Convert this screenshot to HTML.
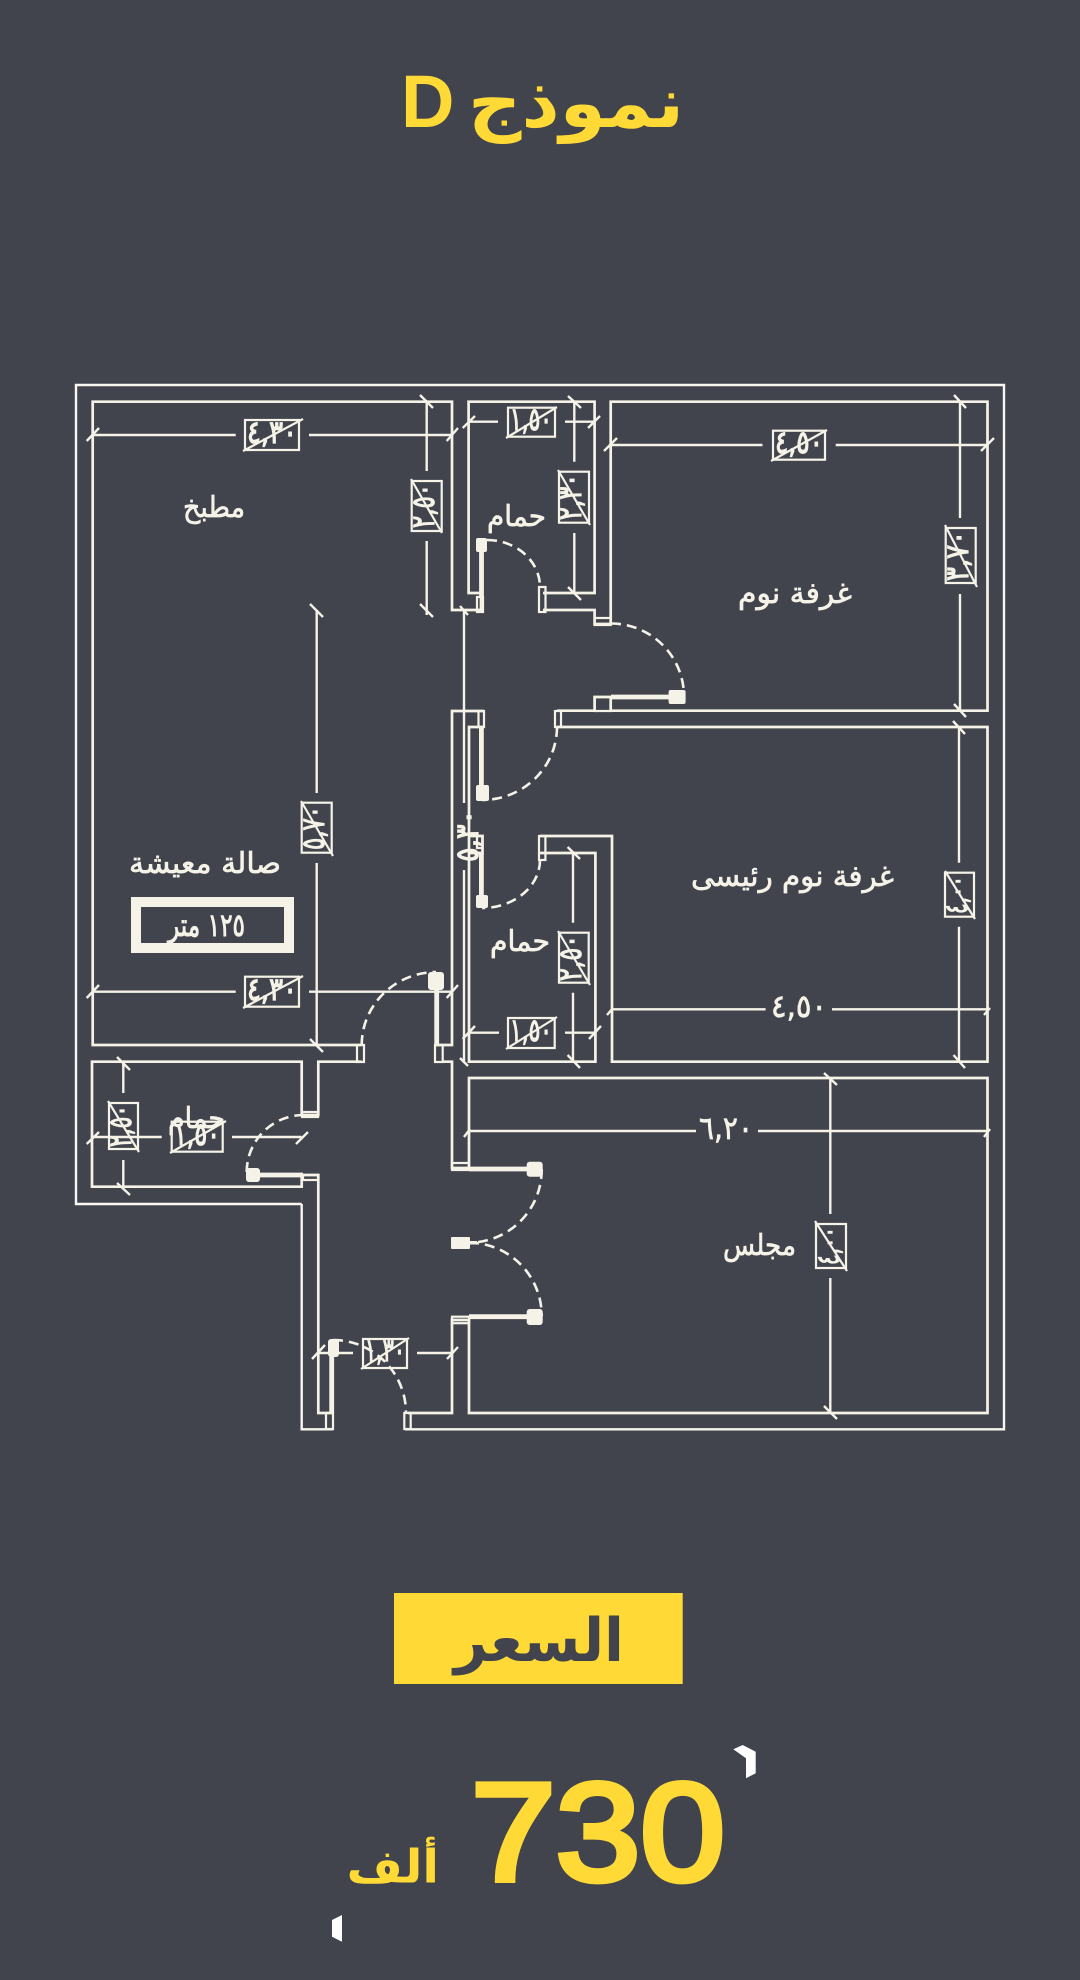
<!DOCTYPE html>
<html lang="ar">
<head>
<meta charset="utf-8">
<title>نموذج D</title>
<style>
html,body{margin:0;padding:0;background:#41444c;width:1080px;height:1980px;overflow:hidden}
svg{display:block}
.w{fill:none;stroke:#f5f3e8;stroke-width:2.7;stroke-linejoin:miter}
.o{fill:none;stroke:#f8f7f0;stroke-width:2.4}
.d{fill:none;stroke:#f5f3e8;stroke-width:2.4}
.t{fill:none;stroke:#f5f3e8;stroke-width:2.4}
.a{fill:none;stroke:#f5f3e8;stroke-width:2.6;stroke-dasharray:10 6}
.l{fill:none;stroke:#f5f3e8;stroke-width:4.8}
.b{fill:#f5f3e8}
.x{fill:none;stroke:#f5f3e8;stroke-width:2.2}
text{font-family:"DejaVu Sans",sans-serif;direction:ltr}
.n{fill:#f5f3e8;stroke:#f5f3e8;stroke-width:1.2;font-size:32px;text-anchor:middle}
.m{fill:#f5f3e8;stroke:#f5f3e8;stroke-width:.7;font-size:29px}
</style>
</head>
<body>
<svg xmlns="http://www.w3.org/2000/svg" width="1080" height="1980" viewBox="0 0 1080 1980">
<rect width="1080" height="1980" fill="#41444c"/>

<!-- title -->
<text x="468" y="127" font-size="70" font-weight="bold" fill="#ffda36" textLength="216" lengthAdjust="spacingAndGlyphs">نموذج</text>
<text x="401" y="127" font-size="74" font-weight="bold" fill="#ffda36" style="font-family:'Liberation Sans',sans-serif">D</text>

<!-- outer walls -->
<path class="o" d="M301.7 1204H76V385H1004V1429.3H405M301.7 1204V1429.3H333"/>

<!-- rooms / inner walls -->
<path class="w" d="M361.7 1045H92.7V401.7H452V610H481V597"/>
<path class="w" d="M481 593H468.6V401.7H594.6V593H543"/>
<path class="w" d="M543 610H594.6V624H610.7V401.7H987.5V710.7H610.7V697H594.6V710.7H557"/>
<path class="w" d="M557 727H987.5V1061.7H612V836H540"/>
<path class="w" d="M540 853H595.4V1061.7H469V727H484"/>
<path class="w" d="M484 711H452V1045H436"/>
<path class="w" d="M442.7 1061.7H452V1168H469M469 1168V1078H987.5V1413H469V1320H452V1413H408"/>
<path class="w" d="M361.7 1061.7H318.3V1115H303M301.7 1115V1061.7H92V1186.7H301.7V1175M303 1175H318.3V1413H333"/>
<path class="w" d="M470 836H482.5V853H470"/>

<!-- jambs -->
<g class="x">
<rect x="477" y="597" width="6" height="15"/>
<rect x="539" y="587" width="6.5" height="25"/>
<rect x="594.6" y="618" width="16" height="7"/>
<rect x="594.6" y="697" width="16" height="14"/>
<rect x="555" y="711" width="6" height="16"/>
<rect x="478.5" y="711" width="5.5" height="16"/>
<rect x="477" y="836" width="5.5" height="12"/>
<rect x="539" y="836" width="6.4" height="24"/>
<rect x="357" y="1045" width="7" height="17"/>
<rect x="435" y="1045" width="7.7" height="17"/>
<rect x="302" y="1112" width="16" height="5"/>
<rect x="303" y="1175" width="15" height="5"/>
<rect x="452" y="1163" width="17" height="7"/>
<rect x="452" y="1316.7" width="17" height="6.5"/>
<rect x="326" y="1413" width="7" height="16"/>
<rect x="404.3" y="1413" width="6.4" height="16"/>
</g>

<!-- door leaves -->
<path class="l" d="M481.5 552V597M611 697H672M481.4 727V790M481.4 853V897M436.7 985V1045M250 1175H303M469 1169H530M469 1316.7H530M331.7 1350V1413"/>

<!-- door blobs -->
<g class="b">
<rect x="476" y="538" width="11" height="14" rx="2"/>
<rect x="668.6" y="690" width="17" height="14" rx="2"/>
<rect x="476" y="785" width="13" height="16" rx="2"/>
<rect x="476" y="895" width="12" height="13" rx="2"/>
<rect x="428" y="972" width="16" height="18" rx="3"/>
<rect x="246" y="1168" width="14" height="14" rx="3"/>
<rect x="526.7" y="1161.7" width="16" height="15" rx="3"/>
<rect x="526.7" y="1309" width="16" height="16" rx="3"/>
<rect x="328" y="1339" width="11" height="18" rx="3"/>
<rect x="451" y="1237" width="19" height="12" rx="1"/>
<rect x="470" y="1241" width="7" height="3.5"/>
</g>

<!-- door arcs -->
<path class="a" d="M487 540A53 47 0 0 1 540 587"/>
<path class="a" d="M611 623.5A73 73 0 0 1 684 697"/>
<path class="a" d="M557 727A75 73 0 0 1 482 800"/>
<path class="a" d="M540 860A58 48 0 0 1 482 908"/>
<path class="a" d="M361.7 1045A75 73 0 0 1 436 972"/>
<path class="a" d="M246.7 1172A57 57 0 0 1 303 1115"/>
<path class="a" d="M541.7 1169A73 73 0 0 1 469 1242.7"/>
<path class="a" d="M469 1242.7A73 73 0 0 1 541.7 1316"/>
<path class="a" d="M333 1340A73 73 0 0 1 406 1413"/>

<!-- dimension lines -->
<path class="d" d="M92.7 435H235.7M309 435H452M426.7 402V471M426.7 541V615"/>
<path class="d" d="M316.7 610V793M316.7 863V1046"/>
<path class="d" d="M464 610V803M464 870V1063"/>
<path class="d" d="M468.6 421.7H498M565 421.7H594.6M574.3 402V461.7M574.3 533V593"/>
<path class="d" d="M610.7 445H762.5M835.7 445H987.5M960 402V518M960 594V710.7"/>
<path class="d" d="M959 727V862.7M959 926.7V1061.7M612 1009.3H765.6M832 1009.3H987.5"/>
<path class="d" d="M469 1032.7H499M565 1032.7H595.4M573 853V922.7M573 992.7V1061.7"/>
<path class="d" d="M92.7 991.7H235.7M309 991.7H452"/>
<path class="d" d="M92 1137H161.7M232 1137H301.7M123.3 1061.7V1093M123.3 1160V1187"/>
<path class="d" d="M318 1353H353M417 1353H452"/>
<path class="d" d="M469 1131H696M758 1131H987.5M830.3 1079V1214M830.3 1278V1413"/>

<!-- ticks -->
<path class="t" d="M86.7 441L99 428M446.7 441L458 428M462.7 428L475 416M588 428L600 416M604 451L617 438M981 451L994 438
M420 395L433 408M420 604L433 617M310 604L323 617M310 1039L323 1052M460 606L468 615M460 1058L468 1066
M568 396L581 408M568 587L581 600M954 395L966 408M954 704L966 717M953 721L965 734M953.5 1055L965 1068
M462.7 1039L475 1026M589 1039L601 1026M567.6 847L580 859M567.6 1055L580 1068M607 1015L613 1008M984 1015L990 1008
M86.7 998L99 985M446.7 998L458 985M117 1057L130 1070M117 1183L130 1195M86.7 1144L99 1132M296 1144L308 1132
M312 1359L325 1345M447 1359L458 1347M464 1137L470 1129M984 1137L990 1129M824 1073L837 1085M824 1406L837 1419"/>

<!-- dimension label boxes -->
<g class="x">
<rect x="245" y="420" width="54" height="30"/><path d="M243 451L303 419"/>
<rect x="411.7" y="481" width="30" height="50"/><path d="M411 479L442 533"/>
<rect x="301.7" y="802.7" width="30" height="50"/><path d="M301 801L333 856"/>
<rect x="508" y="407.7" width="47" height="29"/><path d="M506 438L557 407"/>
<rect x="559" y="471.7" width="30" height="51"/><path d="M558 470L590 525"/>
<rect x="773" y="430.7" width="52" height="29"/><path d="M771 461L827 430"/>
<rect x="945.7" y="528" width="30" height="55"/><path d="M945 525L977 587"/>
<rect x="945" y="872.7" width="29" height="44"/><path d="M945 871L975 919"/>
<rect x="508" y="1018" width="46.7" height="30"/><path d="M506 1049L557 1017"/>
<rect x="559" y="932.7" width="29.7" height="50"/><path d="M558 931L590 985"/>
<rect x="245" y="976.7" width="54" height="30"/><path d="M243 1008L303 976"/>
<rect x="171.7" y="1121.7" width="51" height="30"/><path d="M170 1153L226 1121"/>
<rect x="109" y="1103" width="29" height="46"/><path d="M108 1101L139 1152"/>
<rect x="363" y="1339" width="44" height="29"/><path d="M361 1369L409 1338"/>
<rect x="816" y="1224" width="30" height="44"/><path d="M815 1221L847 1271"/>
</g>

<!-- dimension label text -->
<text class="n" x="272" y="443" textLength="50" lengthAdjust="spacingAndGlyphs">٤,٣٠</text>
<text class="n" transform="translate(434 506) rotate(-90)" textLength="44" lengthAdjust="spacingAndGlyphs">٢,٥٠</text>
<text class="n" transform="translate(324 828) rotate(-90)" textLength="44" lengthAdjust="spacingAndGlyphs">٥,٧٠</text>
<text class="n" transform="translate(478 836) rotate(-90)" textLength="52" lengthAdjust="spacingAndGlyphs">٥,٣٠</text>
<text class="n" x="531" y="430" textLength="42" lengthAdjust="spacingAndGlyphs">١,٥٠</text>
<text class="n" transform="translate(581 497) rotate(-90)" textLength="46" lengthAdjust="spacingAndGlyphs">٢,٣٠</text>
<text class="n" x="799" y="453" textLength="48" lengthAdjust="spacingAndGlyphs">٤,٥٠</text>
<text class="n" transform="translate(968 556) rotate(-90)" textLength="50" lengthAdjust="spacingAndGlyphs">٣,٧٠</text>
<text class="n" transform="translate(967 895) rotate(-90)" textLength="38" lengthAdjust="spacingAndGlyphs">٤,٠٠</text>
<text class="n" x="531" y="1041" textLength="42" lengthAdjust="spacingAndGlyphs">١,٥٠</text>
<text class="n" transform="translate(581 958) rotate(-90)" textLength="46" lengthAdjust="spacingAndGlyphs">٢,٥٠</text>
<text class="n" x="272" y="1000" textLength="50" lengthAdjust="spacingAndGlyphs">٤,٣٠</text>
<text class="n" x="197" y="1145" textLength="46" lengthAdjust="spacingAndGlyphs">١,٥٠</text>
<text class="n" transform="translate(131 1126) rotate(-90)" textLength="42" lengthAdjust="spacingAndGlyphs">٢,٥٠</text>
<text class="n" x="385" y="1361" textLength="40" lengthAdjust="spacingAndGlyphs">١,٣٠</text>
<text class="n" transform="translate(839 1246) rotate(-90)" textLength="38" lengthAdjust="spacingAndGlyphs">٤,٠٠</text>
<text class="m" x="771" y="1017" textLength="56" lengthAdjust="spacingAndGlyphs" style="font-size:32px">٤,٥٠</text>
<text class="m" x="699" y="1139" textLength="54" lengthAdjust="spacingAndGlyphs" style="font-size:32px">٦,٢٠</text>

<!-- room labels -->
<text class="m" x="183" y="517" textLength="62" lengthAdjust="spacingAndGlyphs">مطبخ</text>
<text class="m" x="487" y="526" textLength="59" lengthAdjust="spacingAndGlyphs">حمام</text>
<text class="m" x="738" y="603" textLength="114" lengthAdjust="spacingAndGlyphs">غرفة نوم</text>
<text class="m" x="691" y="886" textLength="203" lengthAdjust="spacingAndGlyphs">غرفة نوم رئيسى</text>
<text class="m" x="490" y="951" textLength="60" lengthAdjust="spacingAndGlyphs">حمام</text>
<text class="m" x="129" y="873" textLength="152" lengthAdjust="spacingAndGlyphs">صالة معيشة</text>
<text class="m" x="168" y="1128" textLength="57" lengthAdjust="spacingAndGlyphs">حمام</text>
<text class="m" x="723" y="1255" textLength="73" lengthAdjust="spacingAndGlyphs">مجلس</text>

<!-- area box -->
<rect x="136" y="902" width="153" height="46" fill="none" stroke="#f5f3e8" stroke-width="10"/>
<text class="m" x="168" y="936" textLength="77" lengthAdjust="spacingAndGlyphs" style="font-size:32px;stroke-width:1">١٢٥ متر</text>

<!-- price -->
<rect x="394" y="1593" width="288.7" height="91" fill="#ffda36"/>
<text x="454" y="1661" font-size="60" font-weight="bold" fill="#41444c" textLength="170" lengthAdjust="spacingAndGlyphs">السعر</text>
<text x="471" y="1880" font-size="139" fill="#ffda36" stroke="#ffda36" stroke-width="6" textLength="254" lengthAdjust="spacingAndGlyphs" style="font-family:'Liberation Sans',sans-serif">730</text>
<text x="346.7" y="1882.5" font-size="46" font-weight="bold" fill="#ffda36" textLength="92.3" lengthAdjust="spacingAndGlyphs">ألف</text>
<polygon fill="#ffffff" points="733.3,1749.3 742.7,1745 755.7,1751.7 755.7,1773.3 746,1778.3 746,1758.3"/>
<polygon fill="#ffffff" points="332,1920 342,1915 342,1941.7 332,1936.7"/>
</svg>
</body>
</html>
